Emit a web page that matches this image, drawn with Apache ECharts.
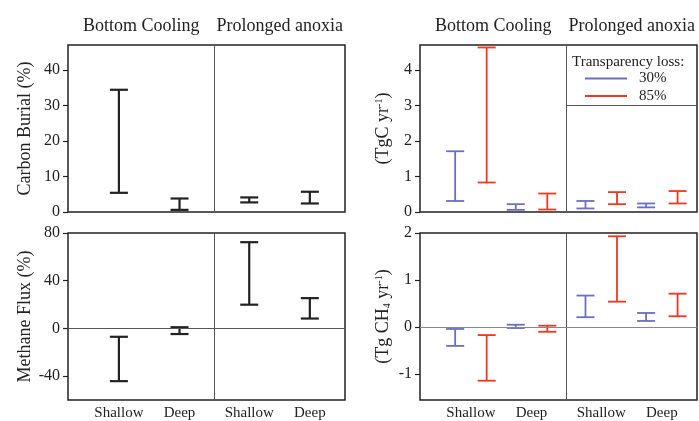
<!DOCTYPE html>
<html><head><meta charset="utf-8">
<script src="https://cdn.jsdelivr.net/npm/echarts@6/dist/echarts.min.js"></script>
<style>html,body{margin:0;padding:0;background:#fff}#c{width:699px;height:421px}</style>
</head><body><div id="c"></div>
<script>
// ---- data ----
const scenarios = ['Bottom Cooling', 'Prolonged anoxia'];
const depths = ['Shallow', 'Deep'];
// order of entries: Bottom Cooling-Shallow, Bottom Cooling-Deep, Prolonged anoxia-Shallow, Prolonged anoxia-Deep
const carbonBurialPctLow  = [5.4, 0.6, 2.7, 2.4];
const carbonBurialPctHigh = [34.4, 3.8, 4.1, 5.7];
const methaneFluxPctLow   = [-44.2, -4.7, 19.9, 8.3];
const methaneFluxPctHigh  = [-7.0, 1.0, 72.3, 25.4];
const carbonBurial30Low   = [0.31, 0.06, 0.10, 0.13];
const carbonBurial30High  = [1.71, 0.22, 0.31, 0.24];
const carbonBurial85Low   = [0.83, 0.07, 0.22, 0.24];
const carbonBurial85High  = [4.63, 0.52, 0.56, 0.59];
const methane30Low        = [-0.40, -0.02, 0.21, 0.13];
const methane30High       = [-0.04, 0.05, 0.67, 0.30];
const methane85Low        = [-1.14, -0.10, 0.54, 0.23];
const methane85High       = [-0.17, 0.03, 1.93, 0.71];
const legendTitle = 'Transparency loss:';
const legendNames = ['30%', '85%'];
const carbonBurialPctTicks = [0, 10, 20, 30, 40];
const methaneFluxPctTicks = [-40, 0, 40, 80];
const carbonBurialTicks = [0, 1, 2, 3, 4];
const methaneTicks = [-1, 0, 1, 2];
const yNames = ['Carbon Burial (%)', 'Methane Flux (%)', '(TgC yr{sup|-1})', '(Tg CH{sub|4} yr{sup|-1})'];

// ---- layout ----
const GROUP_SPAN = 2.15;
const X_MIN = -0.84, X_MAX = 3.73;
const DIVIDER = 1 + (GROUP_SPAN - 1) / 2;
const PAIR_OFF = 0.26;
const FONT = 'Liberation Serif';
const INK = '#222';
const BLUE = '#6a6fc4', RED = '#f2371f';
const grids = [
  {left: 68, top: 45, width: 277, height: 167},
  {left: 68, top: 233, width: 277, height: 168},
  {left: 420, top: 45, width: 277, height: 167},
  {left: 420, top: 233, width: 277, height: 167}
];
function xOf(i) { return Math.floor(i / 2) * GROUP_SPAN + (i % 2); }
const catPositions = [0, 1, 2, 3].map(xOf);
function toData(lo, hi, off) { return lo.map((v, i) => [xOf(i) + off, v, hi[i]]); }

function errorBar(color, lw) {
  return function (params, api) {
    const x = api.value(0), lo = api.value(1), hi = api.value(2);
    const a = api.coord([x, lo]), b = api.coord([x, hi]);
    const hw = 9;
    const style = {stroke: color, lineWidth: lw, fill: null};
    return {type: 'group', children: [
      {type: 'line', shape: {x1: a[0], y1: a[1], x2: b[0], y2: b[1]}, style: style},
      {type: 'line', shape: {x1: a[0] - hw, y1: a[1], x2: a[0] + hw, y2: a[1]}, style: style},
      {type: 'line', shape: {x1: b[0] - hw, y1: b[1], x2: b[0] + hw, y2: b[1]}, style: style}
    ]};
  };
}

function xAxis(gi, showLabels) {
  return {
    type: 'value', gridIndex: gi, min: X_MIN, max: X_MAX, position: 'bottom',
    axisLine: {show: false, onZero: false}, axisTick: {show: false}, splitLine: {show: false},
    axisLabel: {
      show: showLabels, customValues: catPositions, margin: 6,
      fontFamily: FONT, fontSize: 15, color: INK,
      formatter: v => { const k = catPositions.findIndex(p => Math.abs(p - v) < 1e-6); return k >= 0 ? depths[k % 2] : ''; }
    }
  };
}
const richName = {
  sup: {fontFamily: FONT, fontSize: 10, color: INK, verticalAlign: 'top', lineHeight: 18},
  sub: {fontFamily: FONT, fontSize: 10, color: INK, verticalAlign: 'bottom', lineHeight: 18}
};
function yAxis(gi, min, max, ticks, name, gap) {
  return {
    type: 'value', gridIndex: gi, min: min, max: max, position: 'left',
    name: name, nameLocation: 'middle', nameGap: gap,
    nameTextStyle: {fontFamily: FONT, fontSize: 18, color: INK, lineHeight: 18, rich: richName},
    axisLine: {show: false, onZero: false}, splitLine: {show: false},
    axisTick: {show: true, customValues: ticks, length: 5, inside: false, lineStyle: {color: INK, width: 1.2}},
    axisLabel: {customValues: ticks, margin: 8, fontFamily: FONT, fontSize: 16, color: INK}
  };
}
const divider = {silent: true, symbol: 'none', label: {show: false}, lineStyle: {color: '#555', width: 1, type: 'solid'}, data: [{xAxis: DIVIDER}]};
function dividerWithZero(zeroColor) {
  return {silent: true, symbol: 'none', label: {show: false}, lineStyle: {color: '#555', width: 1, type: 'solid'},
    data: [{xAxis: DIVIDER}, {yAxis: 0, lineStyle: {color: zeroColor, width: 1.2}}]};
}

function pxOfX(gi, v) { const g = grids[gi]; return g.left + (v - X_MIN) / (X_MAX - X_MIN) * g.width; }
const titleGraphics = [];
[0, 2].forEach(gi => {
  const centers = [(X_MIN + DIVIDER) / 2, (DIVIDER + X_MAX) / 2];
  centers.forEach((c, k) => titleGraphics.push({
    type: 'text', x: pxOfX(gi, c), y: 26,
    style: {text: scenarios[k], textAlign: 'center', textVerticalAlign: 'middle', font: '18px "' + FONT + '"', fill: INK}
  }));
});
titleGraphics.push({type: 'text', x: 572, y: 62, style: {text: legendTitle, textAlign: 'left', textVerticalAlign: 'middle', font: '15px "' + FONT + '"', fill: INK}});

const option = {
  animation: false,
  backgroundColor: '#fff',
  grid: grids.map(g => Object.assign({show: true, borderColor: INK, borderWidth: 1.5, containLabel: false}, g)),
  xAxis: [xAxis(0, false), xAxis(1, true), xAxis(2, false), xAxis(3, true)],
  yAxis: [
    yAxis(0, 0, 47, carbonBurialPctTicks, yNames[0], 34),
    yAxis(1, -60, 80, methaneFluxPctTicks, yNames[1], 34),
    yAxis(2, 0, 4.7, carbonBurialTicks, yNames[2], 28),
    yAxis(3, -1.55, 2, methaneTicks, yNames[3], 28)
  ],
  legend: {
    data: legendNames, orient: 'vertical', left: 580, top: 66, icon: 'rect',
    itemWidth: 42, itemHeight: 2, itemGap: 2.4, selectedMode: false,
    textStyle: {fontFamily: FONT, fontSize: 15, color: INK, lineHeight: 15, padding: [0, 0, 0, 7]}
  },
  graphic: titleGraphics,
  series: [
    {type: 'custom', name: 'burialPct', xAxisIndex: 0, yAxisIndex: 0, renderItem: errorBar(INK, 2.2),
      encode: {x: 0, y: [1, 2]}, data: toData(carbonBurialPctLow, carbonBurialPctHigh, 0), markLine: divider},
    {type: 'custom', name: 'methanePct', xAxisIndex: 1, yAxisIndex: 1, renderItem: errorBar(INK, 2.2),
      encode: {x: 0, y: [1, 2]}, data: toData(methaneFluxPctLow, methaneFluxPctHigh, 0), markLine: dividerWithZero('#555')},
    {type: 'custom', name: legendNames[0], color: BLUE, xAxisIndex: 2, yAxisIndex: 2, renderItem: errorBar(BLUE, 1.8),
      encode: {x: 0, y: [1, 2]}, data: toData(carbonBurial30Low, carbonBurial30High, -PAIR_OFF),
      markLine: {silent: true, symbol: 'none', label: {show: false}, lineStyle: {color: '#555', width: 1, type: 'solid'},
        data: [{xAxis: DIVIDER}, [{coord: [DIVIDER, 3]}, {coord: [X_MAX, 3]}]]}},
    {type: 'custom', name: legendNames[1], color: RED, xAxisIndex: 2, yAxisIndex: 2, renderItem: errorBar(RED, 1.8),
      encode: {x: 0, y: [1, 2]}, data: toData(carbonBurial85Low, carbonBurial85High, PAIR_OFF)},
    {type: 'custom', name: legendNames[0], color: BLUE, xAxisIndex: 3, yAxisIndex: 3, renderItem: errorBar(BLUE, 1.8),
      encode: {x: 0, y: [1, 2]}, data: toData(methane30Low, methane30High, -PAIR_OFF), markLine: dividerWithZero('#888')},
    {type: 'custom', name: legendNames[1], color: RED, xAxisIndex: 3, yAxisIndex: 3, renderItem: errorBar(RED, 1.8),
      encode: {x: 0, y: [1, 2]}, data: toData(methane85Low, methane85High, PAIR_OFF)}
  ]
};
const chart = echarts.init(document.getElementById('c'), null, {renderer: 'canvas'});
chart.setOption(option);
</script></body></html>
